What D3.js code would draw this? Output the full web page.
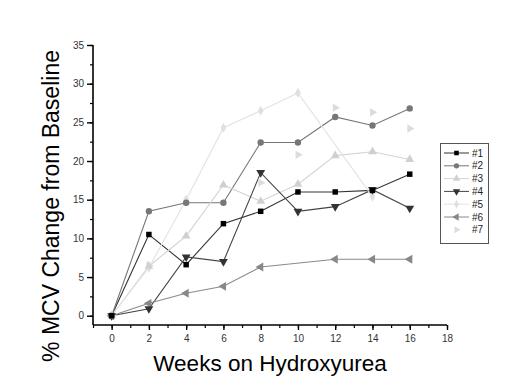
<!DOCTYPE html>
<html>
<head>
<meta charset="utf-8">
<script src="https://cdn.jsdelivr.net/npm/d3@7"></script>
<style>
  body { margin: 0; background: #fff; }
  text { font-family: "Liberation Sans", Arial, sans-serif; }
</style>
</head>
<body>
<div id="chart"></div>
<script>
// data
const weeks = [0, 2, 4, 6, 8, 10, 12, 14, 16];
const p1 = [0, 10.5, 6.6, 11.9, 13.5, 16.0, 16.0, 16.2, 18.3];
const p2 = [0, 13.5, 14.6, 14.6, 22.4, 22.4, 25.7, 24.6, 26.8];
const p3 = [0, 6.4, 10.3, 16.9, 14.8, 17.0, 20.7, 21.2, 20.2];
const p4 = [0, 0.9, 7.6, 7.0, 18.5, 13.5, 14.1, 16.3, 13.9];
const p5 = [0, 6.2, 15.0, 24.3, 26.5, 28.8, null, 15.4, null];
const p6 = [0, 1.6, 2.9, 3.8, 6.3, null, 7.3, 7.3, 7.3];
const p7 = [0, 6.5, null, null, 17.2, 20.8, 26.9, 26.3, 24.2];
const seriesNames = ["#1", "#2", "#3", "#4", "#5", "#6", "#7"];
const xTicks = [0, 2, 4, 6, 8, 10, 12, 14, 16, 18];
const yTicks = [0, 5, 10, 15, 20, 25, 30, 35];

const width = 520, height = 389;
const svg = d3.select("#chart").append("svg")
  .attr("width", width).attr("height", height);

let x = d3.scaleLinear().domain([-1, 18]).range([93, 447]);
let y = d3.scaleLinear().domain([-1.2, 35]).range([325, 45]);

// marker style per series
const styles = [
  {sym: d3.symbolSquare, size: 30, fill: "#000", line: "#333", rot: 0, drawLine: true},
  {sym: d3.symbolCircle, size: 32, fill: "#777", line: "#777", rot: 0, drawLine: true},
  {sym: d3.symbolTriangle, size: 34, fill: "#d0d0d0", line: "#d4d4d4", rot: 0, drawLine: true},
  {sym: d3.symbolTriangle, size: 34, fill: "#333", line: "#444", rot: 180, drawLine: true},
  {sym: d3.symbolDiamond, size: 30, fill: "#e0e0e0", line: "#e2e2e2", rot: 0, drawLine: true},
  {sym: d3.symbolTriangle, size: 34, fill: "#888", line: "#8a8a8a", rot: -90, drawLine: true},
  {sym: d3.symbolTriangle, size: 30, fill: "#dcdcdc", line: "#ddd", rot: 90, drawLine: false}
];

const allSeries = [p1, p2, p3, p4, p5, p6, p7].map((vals, i) => ({
  name: seriesNames[i],
  style: styles[i],
  points: weeks.map((w, j) => ({w: w, v: vals[j]})).filter(d => d.v !== null)
}));

// axes
svg.append("g")
  .attr("transform", "translate(0,325)")
  .call(d3.axisBottom(x).tickValues(d3.range(-1, 19, 1)).tickSize(3).tickFormat(""))
  .call(g => g.select(".domain").remove())
  .selectAll("line").attr("stroke", "#000").attr("stroke-width", 1.2);
svg.append("g")
  .attr("transform", "translate(0,325)")
  .call(d3.axisBottom(x).tickValues(xTicks).tickSize(5).tickPadding(5))
  .call(g => g.select(".domain").attr("d", "M93,0H447").attr("stroke-width", 1.6))
  .call(g => g.selectAll("line").attr("stroke-width", 1.4))
  .call(g => g.selectAll("text").attr("font-size", 10).attr("fill", "#333")
    .attr("font-family", "Liberation Sans, Arial, sans-serif"));

svg.append("g")
  .attr("transform", "translate(93,0)")
  .call(d3.axisLeft(y).tickValues(d3.range(0, 35.1, 2.5)).tickSize(3).tickFormat(""))
  .call(g => g.select(".domain").remove())
  .selectAll("line").attr("stroke-width", 1.2);
svg.append("g")
  .attr("transform", "translate(93,0)")
  .call(d3.axisLeft(y).tickValues(yTicks).tickSize(6).tickPadding(3))
  .call(g => g.select(".domain").attr("d", "M0,45V325").attr("stroke-width", 1.6))
  .call(g => g.selectAll("line").attr("stroke-width", 1.4))
  .call(g => g.selectAll("text").attr("font-size", 10).attr("fill", "#333")
    .attr("font-family", "Liberation Sans, Arial, sans-serif"));

// axis titles
svg.append("text")
  .attr("x", 270).attr("y", 371)
  .attr("text-anchor", "middle")
  .attr("font-size", 22.5)
  .text("Weeks on Hydroxyurea");
svg.append("text")
  .attr("transform", "translate(59,206) rotate(-90)")
  .attr("text-anchor", "middle")
  .attr("font-size", 23)
  .text("% MCV Change from Baseline");

// lines then markers
let line = d3.line().x(d => x(d.w)).y(d => y(d.v));
allSeries.forEach(s => {
  if (s.style.drawLine) {
    svg.append("path")
      .datum(s.points)
      .attr("d", line)
      .attr("fill", "none")
      .attr("stroke", s.style.line)
      .attr("stroke-width", 1.1);
  }
});
allSeries.slice().reverse().forEach(s => {
  svg.append("g").selectAll("path")
    .data(s.points)
    .enter().append("path")
    .attr("transform", d => "translate(" + x(d.w) + "," + y(d.v) + ") rotate(" + s.style.rot + ")")
    .attr("d", d3.symbol().type(s.style.sym).size(s.style.size))
    .attr("fill", s.style.fill);
});

// legend
const legend = svg.append("g");
legend.append("rect")
  .attr("x", 440.5).attr("y", 143.5)
  .attr("width", 48).attr("height", 100)
  .attr("fill", "#fff").attr("stroke", "#555").attr("stroke-width", 1);
allSeries.forEach((s, i) => {
  let ly = 153 + i * 12.8;
  if (s.style.drawLine) {
    legend.append("line")
      .attr("x1", 444).attr("x2", 469).attr("y1", ly).attr("y2", ly)
      .attr("stroke", s.style.line).attr("stroke-width", 1);
  }
  legend.append("path")
    .attr("transform", "translate(456.5," + ly + ") rotate(" + s.style.rot + ")")
    .attr("d", d3.symbol().type(s.style.sym).size(s.style.size * 0.7))
    .attr("fill", s.style.fill);
  legend.append("text")
    .attr("x", 472).attr("y", ly + 3.5)
    .attr("font-size", 10)
    .attr("fill", "#222")
    .text(s.name);
});
</script>
</body>
</html>
